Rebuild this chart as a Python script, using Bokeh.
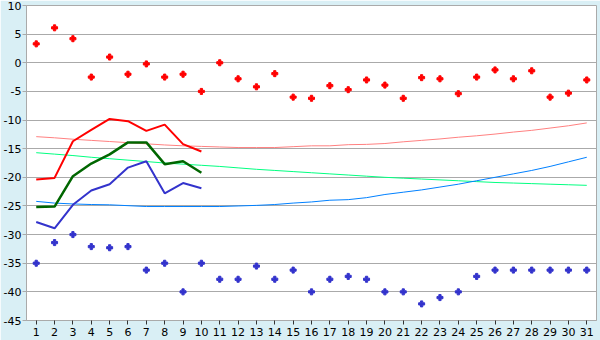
from bokeh.plotting import figure
from bokeh.models import FixedTicker, Range1d
from bokeh.embed import file_html
from bokeh.resources import INLINE

days = list(range(1, 32))

max_pts = [3.3, 6.1, 4.2, -2.5, 1.0, -2.0, -0.2, -2.5, -2.0, -5.0,
           0.0, -2.8, -4.2, -1.9, -6.0, -6.2, -4.0, -4.7, -3.0, -3.9,
           -6.2, -2.6, -2.8, -5.4, -2.5, -1.25, -2.8, -1.4, -6.0, -5.3, -3.0]
min_pts = [-35.0, -31.4, -30.0, -32.1, -32.3, -32.1, -36.2, -35.0, -40.0, -35.0,
           -37.8, -37.8, -35.5, -37.8, -36.2, -40.0, -37.8, -37.3, -37.8, -40.0,
           -40.0, -42.1, -41.0, -40.0, -37.3, -36.2, -36.2, -36.2, -36.2, -36.2, -36.2]

obs_days = list(range(1, 11))
obs_max = [-20.4, -20.1, -13.7, -11.7, -9.8, -10.2, -11.9, -10.8, -14.2, -15.5]
obs_mean = [-25.2, -25.1, -19.8, -17.6, -16.0, -13.9, -13.9, -17.7, -17.2, -19.2]
obs_min = [-27.8, -28.9, -24.8, -22.3, -21.2, -18.3, -17.2, -22.8, -21.0, -21.9]

norm_max = [-12.9, -13.1, -13.35, -13.55, -13.75, -13.95, -14.15, -14.35, -14.5, -14.6,
            -14.7, -14.8, -14.8, -14.8, -14.65, -14.5, -14.5, -14.3, -14.25, -14.1,
            -13.8, -13.55, -13.3, -13.0, -12.75, -12.45, -12.1, -11.8, -11.4, -11.0, -10.5]
norm_mean = [-15.7, -15.95, -16.2, -16.5, -16.75, -17.0, -17.25, -17.5, -17.7, -17.9,
             -18.1, -18.35, -18.6, -18.8, -19.0, -19.2, -19.4, -19.6, -19.8, -20.0,
             -20.15, -20.3, -20.45, -20.6, -20.75, -20.9, -21.0, -21.1, -21.2, -21.3, -21.4]
norm_min = [-24.2, -24.5, -24.65, -24.75, -24.8, -24.95, -25.1, -25.1, -25.1, -25.1,
            -25.1, -25.0, -24.9, -24.75, -24.5, -24.3, -24.0, -23.9, -23.55, -23.0,
            -22.6, -22.2, -21.7, -21.2, -20.6, -20.0, -19.4, -18.8, -18.1, -17.3, -16.5]

y_ticks = list(range(-45, 11, 5))
y_labels = {t: str(t) for t in y_ticks}  # plain hyphen-minus, as in the original

BG = "#D9EFF5"
GRID = "#AAAAAA"

p = figure(width=600, height=340, output_backend="svg", toolbar_location=None,
           x_range=Range1d(0.47, 31.53), y_range=Range1d(-45, 10),
           min_border_left=0, min_border_right=4, min_border_top=5, min_border_bottom=20,
           background_fill_color="white", border_fill_color=BG,
           outline_line_color=GRID, outline_line_width=1)

for ax in (p.xaxis[0], p.yaxis[0]):
    ax.axis_line_color = GRID
    ax.major_tick_line_color = "#333333"
    ax.major_tick_out = 4
    ax.major_tick_in = 0
    ax.minor_tick_line_color = None
    ax.major_label_text_font = "DejaVu Sans"
    ax.major_label_text_font_size = "11px"
    ax.major_label_text_color = "black"

p.xaxis.ticker = FixedTicker(ticks=days)
p.yaxis.ticker = FixedTicker(ticks=y_ticks)
p.yaxis.major_label_overrides = y_labels
p.xaxis.major_label_standoff = 3
p.yaxis.major_label_standoff = 1
p.yaxis.major_tick_line_color = GRID
p.xgrid.grid_line_color = None
p.ygrid.grid_line_color = GRID
p.ygrid.grid_line_width = 1

# thin normal lines
p.line(days, norm_max, line_color="#FF8080", line_width=1)
p.line(days, norm_mean, line_color="#00FF80", line_width=1)
p.line(days, norm_min, line_color="#0080FF", line_width=1)

# thick observed lines
p.line(obs_days, obs_max, line_color="#FF0000", line_width=2)
p.line(obs_days, obs_mean, line_color="#006600", line_width=2.5)
p.line(obs_days, obs_min, line_color="#3333CC", line_width=2)

# extreme points
p.scatter(days, max_pts, marker="plus", size=6, fill_color="#FF0000", line_color="#FF0000")
p.scatter(days, min_pts, marker="plus", size=6, fill_color="#3333CC", line_color="#3333CC")

open("out.html", "w").write(file_html(p, INLINE))
